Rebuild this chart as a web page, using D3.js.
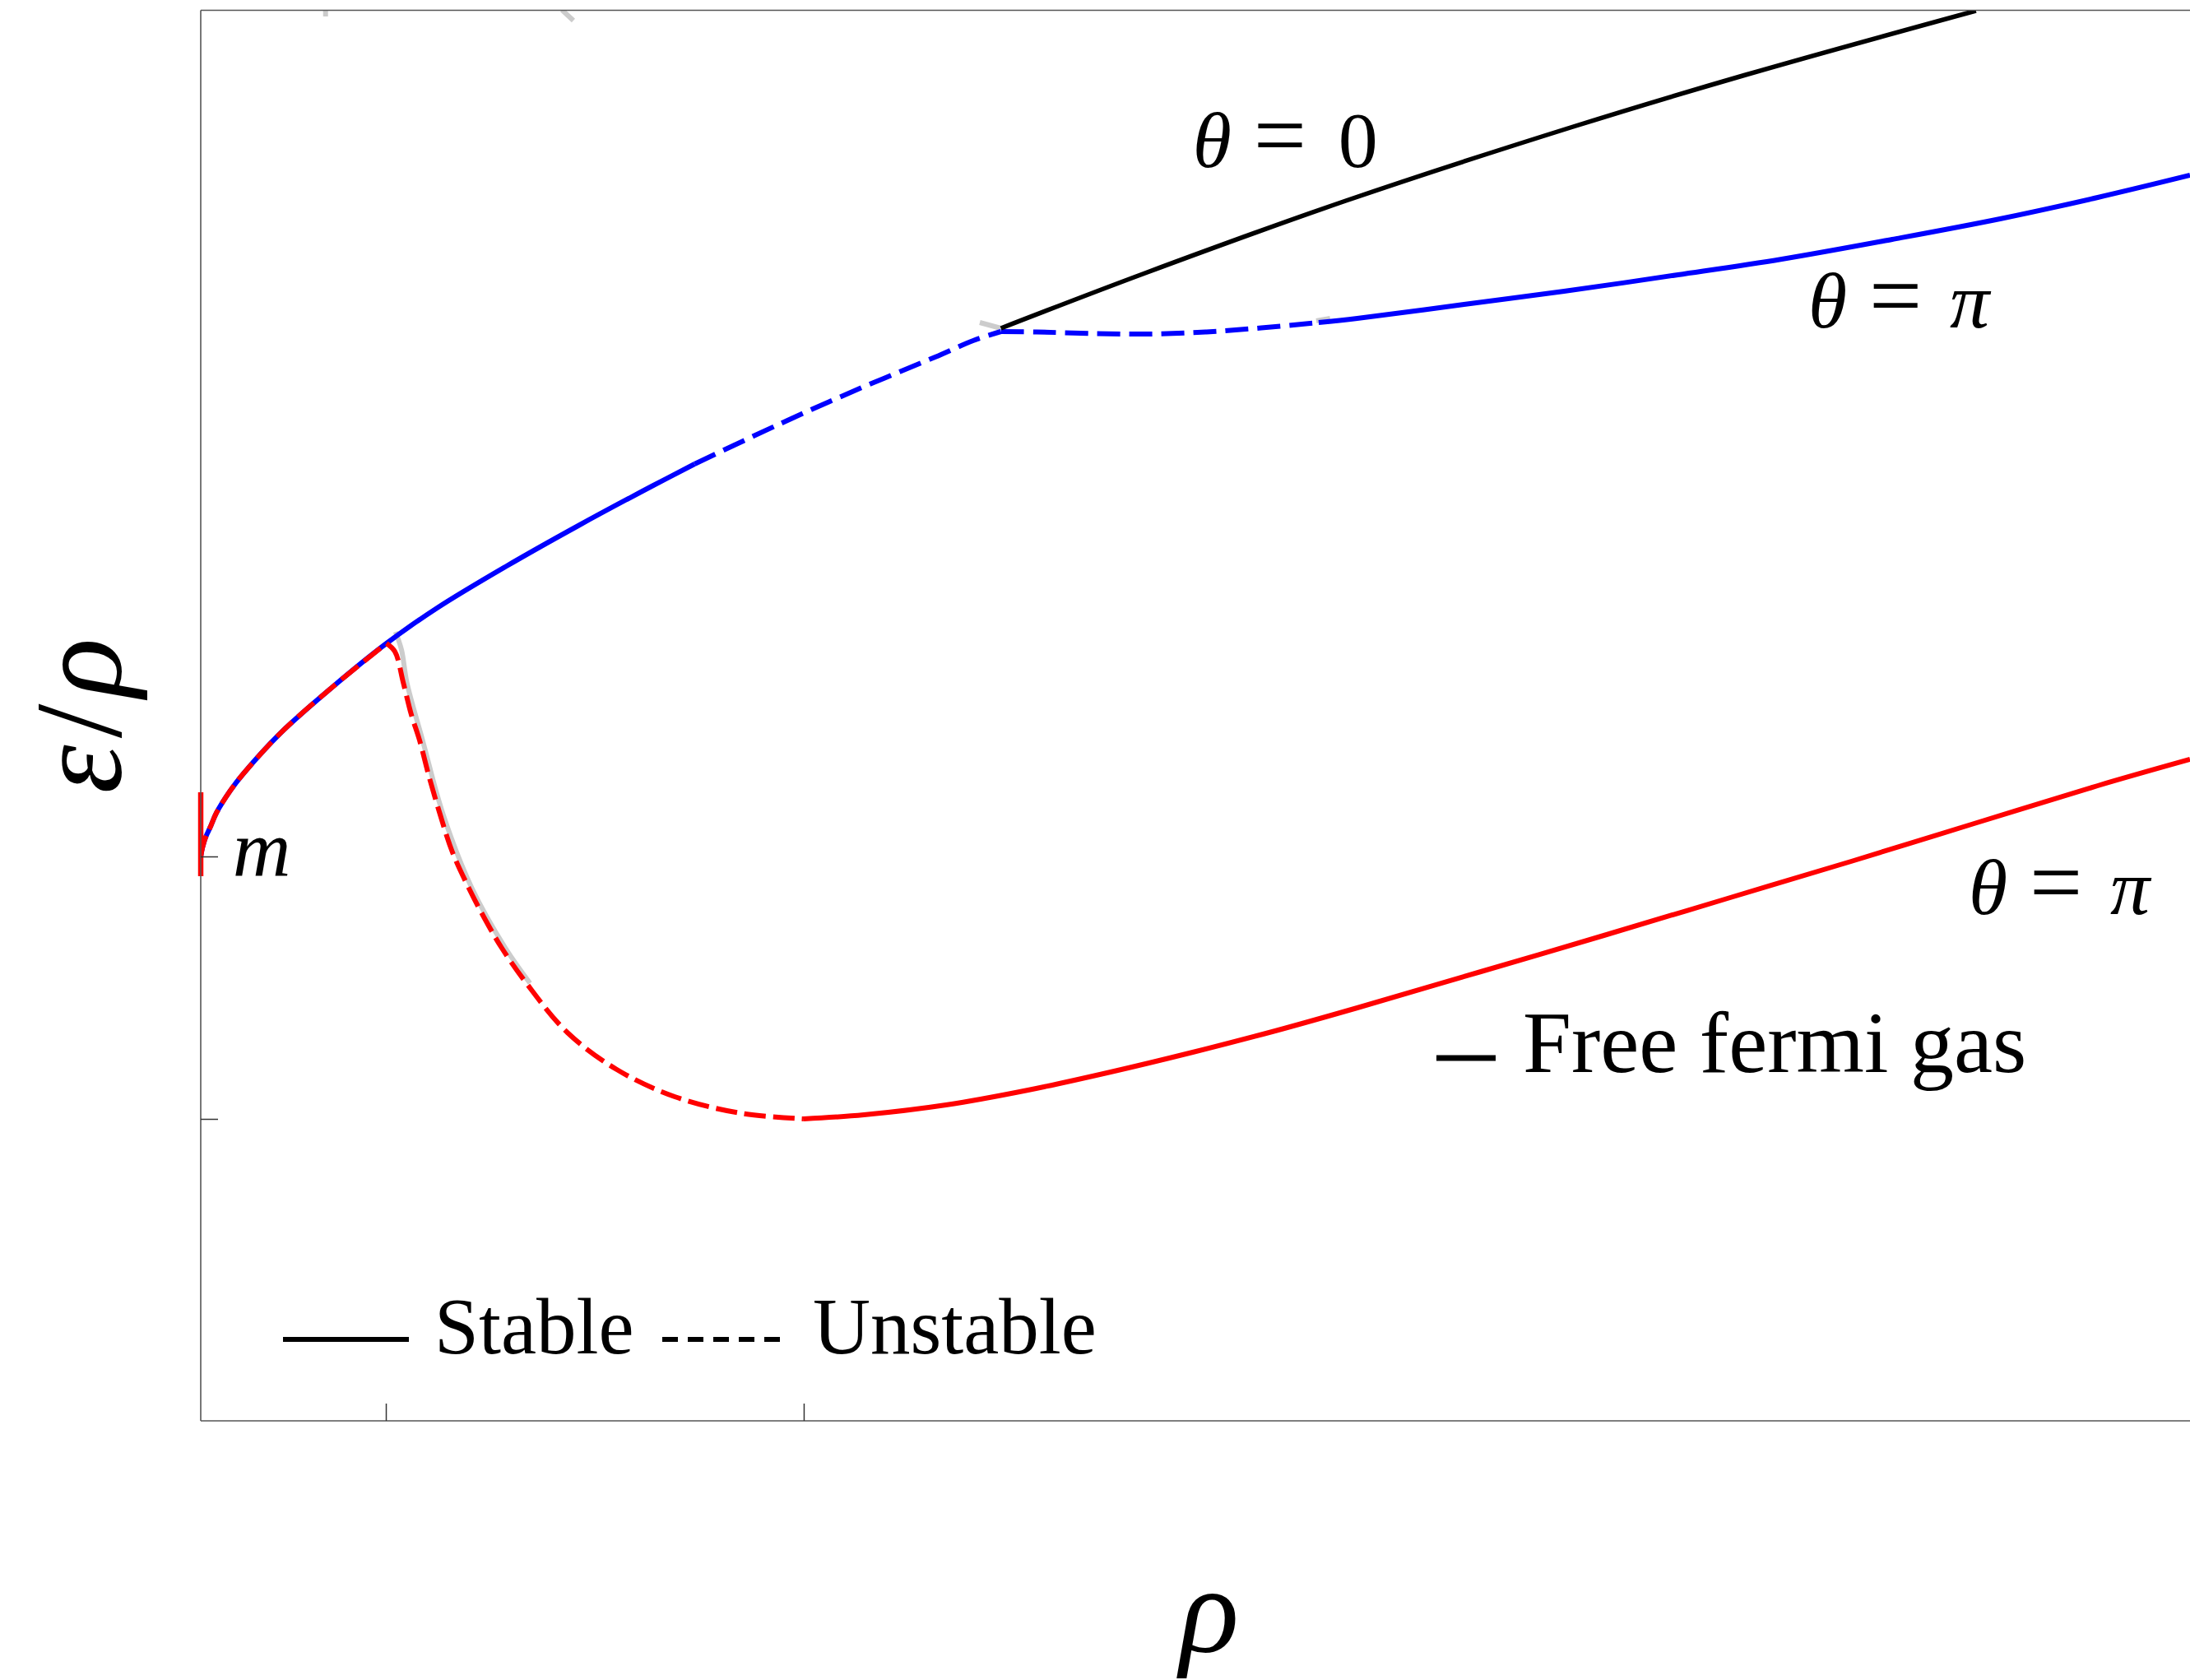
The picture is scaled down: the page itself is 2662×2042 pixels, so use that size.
<!DOCTYPE html>
<html>
<head>
<meta charset="utf-8">
<script src="https://cdn.jsdelivr.net/npm/d3@7"></script>
<style>
  html, body { margin: 0; padding: 0; background: #ffffff; }
  svg { display: block; }
</style>
</head>
<body>
<svg id="chart" width="2662" height="2042"></svg>
<script>
// Energy per particle ε/ρ against density ρ.
// ρ is measured in units of the density at the θ = π minimum, ε/ρ in units of m.

const xTicks = [0.307, 1.0];
const yTicks = [1.0, 0.681];

// θ = π, upper (blue) branch
const blueStableLowRho  = [0, 0.003, 0.008, 0.016, 0.026, 0.049, 0.070, 0.131, 0.217, 0.308, 0.392, 0.505, 0.626, 0.748, 0.819];
const blueStableLowEps  = [1.000, 1.011, 1.023, 1.036, 1.053, 1.080, 1.100, 1.149, 1.205, 1.259, 1.302, 1.352, 1.402, 1.450, 1.477];
const blueUnstableRho   = [0.819, 0.958, 1.087, 1.218, 1.281, 1.327];
const blueUnstableEps   = [1.477, 1.525, 1.567, 1.607, 1.627, 1.638];
const blueDipRho        = [1.327, 1.386, 1.486, 1.577, 1.668, 1.759, 1.854];
const blueDipEps        = [1.638, 1.6375, 1.6355, 1.635, 1.6375, 1.6425, 1.649];
const blueStableHighRho = [1.854, 1.918, 2.095, 2.261, 2.450, 2.622, 2.805, 2.984, 3.146, 3.299];
const blueStableHighEps = [1.649, 1.654, 1.671, 1.687, 1.707, 1.726, 1.750, 1.775, 1.801, 1.828];

// θ = 0 (black) branch
const blackRho = [1.327, 1.566, 1.899, 2.276, 2.562, 2.944];
const blackEps = [1.642, 1.709, 1.797, 1.887, 1.950, 2.028];

// θ = π, lower (red) branch
const redSharedRho = [0, 0.003, 0.008, 0.016, 0.026, 0.049, 0.070, 0.131, 0.217, 0.308];
const redSharedEps = [1.000, 1.011, 1.023, 1.036, 1.053, 1.080, 1.100, 1.149, 1.205, 1.259];
const redDropRho   = [0.308, 0.322, 0.336, 0.349, 0.363, 0.379, 0.397, 0.417, 0.445, 0.472, 0.499, 0.540, 0.608, 0.690, 0.786, 0.895, 1.000];
const redDropEps   = [1.259, 1.249, 1.211, 1.173, 1.141, 1.096, 1.051, 1.006, 0.961, 0.923, 0.889, 0.846, 0.786, 0.741, 0.708, 0.688, 0.681];
const redStableRho = [1.000, 1.100, 1.236, 1.372, 1.509, 1.645, 1.782, 1.918, 2.123, 2.327, 2.532, 2.737, 2.941, 3.146, 3.299];
const redStableEps = [0.681, 0.686, 0.698, 0.716, 0.738, 0.762, 0.788, 0.816, 0.860, 0.904, 0.949, 0.994, 1.040, 1.086, 1.118];
const redAxisRho   = [0, 0];
const redAxisEps   = [0.976, 1.078];

// faint grey traces under the coloured curves
const greyCuspRho = [0.323, 0.333, 0.342, 0.368, 0.402, 0.450, 0.505, 0.546];
const greyCuspEps = [1.273, 1.251, 1.211, 1.141, 1.051, 0.961, 0.889, 0.846];
const greyKinkRho = [1.292, 1.327];
const greyKinkEps = [1.649, 1.642];
const greyJoinRho = [1.850, 1.873];
const greyJoinEps = [1.651, 1.654];
const greyTopARho = [0.207, 0.207];
const greyTopAEps = [2.029, 2.021];
const greyTopBRho = [0.599, 0.618];
const greyTopBEps = [2.029, 2.016];

const curveLabels = ["0", "π", "π"];
const legendLabels = ["Stable", "Unstable", "Free fermi gas"];

const W = 2662, H = 2042;
const plotLeft = 244, plotTop = 12.5, plotBottom = 1727, plotRight = 2662;

const x = d3.scaleLinear().domain([0, 3.299]).range([plotLeft, plotRight]);
const y = d3.scaleLinear().domain([0.314, 2.0285]).range([plotBottom, plotTop]);

const svg = d3.select("#chart");
svg.append("rect").attr("width", W).attr("height", H).attr("fill", "#ffffff");

svg.append("defs").append("clipPath").attr("id", "plotClip")
  .append("rect").attr("x", plotLeft - 6).attr("y", plotTop)
  .attr("width", plotRight - plotLeft + 6).attr("height", plotBottom - plotTop);

const zip = (xs, ys) => xs.map((v, i) => [v, ys[i]]);
const smooth = d3.line().x(d => x(d[0])).y(d => y(d[1])).curve(d3.curveCatmullRom.alpha(0.5));
const straight = d3.line().x(d => x(d[0])).y(d => y(d[1]));

const plot = svg.append("g").attr("clip-path", "url(#plotClip)");

function draw(xs, ys, color, width, dash, gen) {
  plot.append("path")
    .attr("d", (gen || smooth)(zip(xs, ys)))
    .attr("fill", "none")
    .attr("stroke", color)
    .attr("stroke-width", width)
    .attr("stroke-dasharray", dash || null)
    .attr("stroke-linejoin", "round");
}

// grey traces first
const grey = "#cccccc";
draw(greyCuspRho, greyCuspEps, grey, 6);
draw(greyKinkRho, greyKinkEps, grey, 6, null, straight);
draw(greyJoinRho, greyJoinEps, grey, 6, null, straight);
draw(greyTopARho, greyTopAEps, grey, 6, null, straight);
draw(greyTopBRho, greyTopBEps, grey, 6, null, straight);

// blue branch
const blue = "#0000ff", red = "#ff0000", black = "#000000";
draw(blueStableLowRho, blueStableLowEps, blue, 6);
draw(blueUnstableRho, blueUnstableEps, blue, 6, "28,11");
draw(blueDipRho, blueDipEps, blue, 6, "28,11");
draw(blueStableHighRho, blueStableHighEps, blue, 6);

// black branch
draw(blackRho, blackEps, black, 5.5);

// red branch
draw(redSharedRho, redSharedEps, red, 6, "26,9");
draw(redDropRho, redDropEps, red, 6, "26,9");
draw(redStableRho, redStableEps, red, 6);
draw(redAxisRho, redAxisEps, red, 6.5, null, straight);

// frame
const frameColor = "#555555";
const frame = svg.append("g").attr("stroke", frameColor).attr("stroke-width", 1.6).attr("fill", "none");
frame.append("line").attr("x1", plotLeft).attr("x2", plotRight + 2).attr("y1", plotTop).attr("y2", plotTop);
frame.append("line").attr("x1", plotLeft).attr("x2", plotRight + 2).attr("y1", plotBottom).attr("y2", plotBottom);
frame.append("line").attr("x1", plotLeft).attr("x2", plotLeft).attr("y1", plotTop).attr("y2", plotBottom);

// inward ticks
const xAxis = svg.append("g").attr("transform", `translate(0,${plotBottom})`)
  .call(d3.axisBottom(x).tickValues(xTicks).tickSize(-21).tickFormat(""));
const yAxis = svg.append("g").attr("transform", `translate(${plotLeft},0)`)
  .call(d3.axisLeft(y).tickValues(yTicks).tickSize(-21).tickFormat(""));
[xAxis, yAxis].forEach(g => {
  g.select(".domain").remove();
  g.selectAll(".tick line").attr("stroke", "#333333").attr("stroke-width", 1.5);
});

const serif = "'Liberation Serif', 'DejaVu Serif', serif";

// θ labels: θ, =, value set as separate glyph runs
function thetaLabel(x0, baseline, value) {
  const t = svg.append("text").attr("y", baseline).attr("font-family", serif)
    .attr("font-size", 96).attr("fill", "#000");
  t.append("tspan").attr("x", x0).attr("font-style", "italic").text("θ");
  t.append("tspan").attr("x", x0 + 74).attr("font-size", 114).text("=");
  t.append("tspan").attr("x", x0 + (value === "π" ? 172 : 177))
    .attr("font-style", value === "π" ? "italic" : "normal").text(value);
}
thetaLabel(x(1.645), y(1.838), curveLabels[0]);
thetaLabel(x(2.666), y(1.643), curveLabels[1]);
thetaLabel(x(2.932), y(0.930), curveLabels[2]);

// m at the ε/ρ axis
svg.append("text").attr("x", x(0.053)).attr("y", y(0.977))
  .attr("font-family", serif).attr("font-size", 98).attr("font-style", "italic")
  .text("m");

// free fermi gas key
svg.append("line").attr("x1", 1746).attr("x2", 1818).attr("y1", 1286).attr("y2", 1286)
  .attr("stroke", black).attr("stroke-width", 7);
svg.append("text").attr("x", 1851).attr("y", 1303)
  .attr("font-family", serif).attr("font-size", 106).text(legendLabels[2]);

// stability key
svg.append("line").attr("x1", 344).attr("x2", 497).attr("y1", 1628).attr("y2", 1628)
  .attr("stroke", black).attr("stroke-width", 6);
svg.append("text").attr("x", 528).attr("y", 1645)
  .attr("font-family", serif).attr("font-size", 97).text(legendLabels[0]);
svg.append("line").attr("x1", 805).attr("x2", 948).attr("y1", 1628).attr("y2", 1628)
  .attr("stroke", black).attr("stroke-width", 6).attr("stroke-dasharray", "19,12");
svg.append("text").attr("x", 988).attr("y", 1645)
  .attr("font-family", serif).attr("font-size", 97).text(legendLabels[1]);

// axis titles
const yTitle = svg.append("text")
  .attr("transform", "translate(147,870) rotate(-90)")
  .attr("text-anchor", "middle")
  .attr("font-family", serif).attr("font-size", 150).attr("font-style", "italic");
yTitle.append("tspan").text("ε");
yTitle.append("tspan").attr("font-style", "normal").attr("dx", 8).text("/");
yTitle.append("tspan").attr("dx", 8).text("ρ");

svg.append("text").attr("x", 1470).attr("y", 2008).attr("text-anchor", "middle")
  .attr("font-family", serif).attr("font-size", 150).attr("font-style", "italic")
  .text("ρ");
</script>
</body>
</html>
